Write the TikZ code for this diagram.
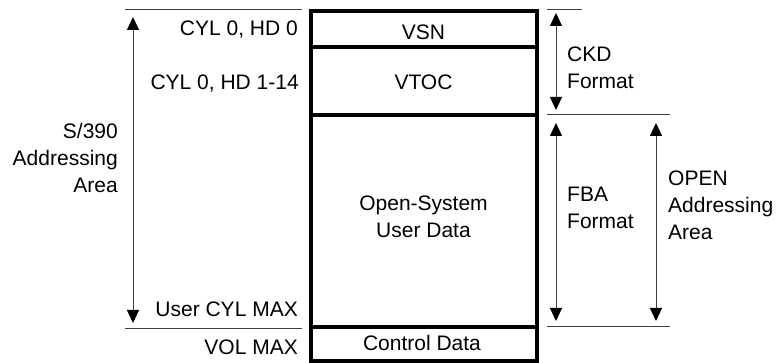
\documentclass[tikz,border=0pt]{standalone}
\usepackage{fontspec}
\setmainfont{Liberation Sans}
\usetikzlibrary{arrows.meta}
\begin{document}
\begin{tikzpicture}[x=1pt,y=-1pt,
  lbl/.style={inner sep=0pt,font=\fontsize{21}{27}\selectfont},
  rlbl/.style={lbl,anchor=base east},
  clbl/.style={lbl,anchor=base},
  mlbl/.style={lbl,align=left,anchor=west},
  rmlbl/.style={lbl,align=right,anchor=east},
  cmlbl/.style={lbl,align=center,anchor=center},
  thickbox/.style={line width=4pt},
  guide/.style={line width=1pt,draw=black!75},
  tip/.tip={Triangle[length=13pt,width=12pt,fill=black,color=black]},
  dim/.style={line width=1pt,draw=black!75,tip-tip}
]
\useasboundingbox (0,0) rectangle (777,363);
% main box
\draw[thickbox] (310.5,11) rectangle (537,361);
\draw[thickbox] (310.5,47) -- (537,47);
\draw[thickbox] (310.5,115.5) -- (537,115.5);
\draw[thickbox] (310.5,326.7) -- (537,326.7);
% box labels
\node[clbl] (vsn) at (423.5,40) {VSN};
\node[clbl] (vtoc) at (423.5,89.3) {VTOC};
\node[cmlbl] (osud) at (423.5,216.5) {Open-System\\User Data};
\node[clbl] (ctrl) at (422,350.5) {Control Data};
% left labels
\node[rlbl] (c0) at (298,36) {CYL 0, HD 0};
\node[rlbl] (c1) at (299,89.5) {CYL 0, HD 1-14};
\node[rlbl] (ucm) at (298,316.5) {User CYL MAX};
\node[rlbl] (vm) at (298,354.5) {VOL MAX};
\node[rmlbl] (s390) at (118,158) {S/390\\Addressing\\Area};
% left guides
\coordinate (lt1) at (125,10);  \coordinate (lt2) at (302,10);
\coordinate (lb1) at (125,328.5); \coordinate (lb2) at (302,328.5);
\draw[guide] (lt1) -- (lt2);
\draw[guide] (lb1) -- (lb2);
\coordinate (la1) at (133,17); \coordinate (la2) at (133,323);
\draw[dim] (la1) -- (la2);
% right guides
\coordinate (rt1) at (547,10);  \coordinate (rt2) at (582,10);
\coordinate (rm1) at (547,114.5); \coordinate (rm2) at (670,114.5);
\coordinate (rb1) at (547,326.7); \coordinate (rb2) at (670,326.7);
\draw[guide] (rt1) -- (rt2);
\draw[guide] (rm1) -- (rm2);
\draw[guide] (rb1) -- (rb2);
\coordinate (ck1) at (556,13); \coordinate (ck2) at (556,110);
\draw[dim] (ck1) -- (ck2);
\coordinate (fb1) at (556,123); \coordinate (fb2) at (556,321);
\draw[dim] (fb1) -- (fb2);
\coordinate (op1) at (656,123); \coordinate (op2) at (656,321);
\draw[dim] (op1) -- (op2);
% right labels
\node[mlbl] (ckd) at (567,67.5) {CKD\\Format};
\node[mlbl] (fba) at (567,207.5) {FBA\\Format};
\node[mlbl] (open) at (668,205.5) {OPEN\\Addressing\\Area};
\end{tikzpicture}
\end{document}
